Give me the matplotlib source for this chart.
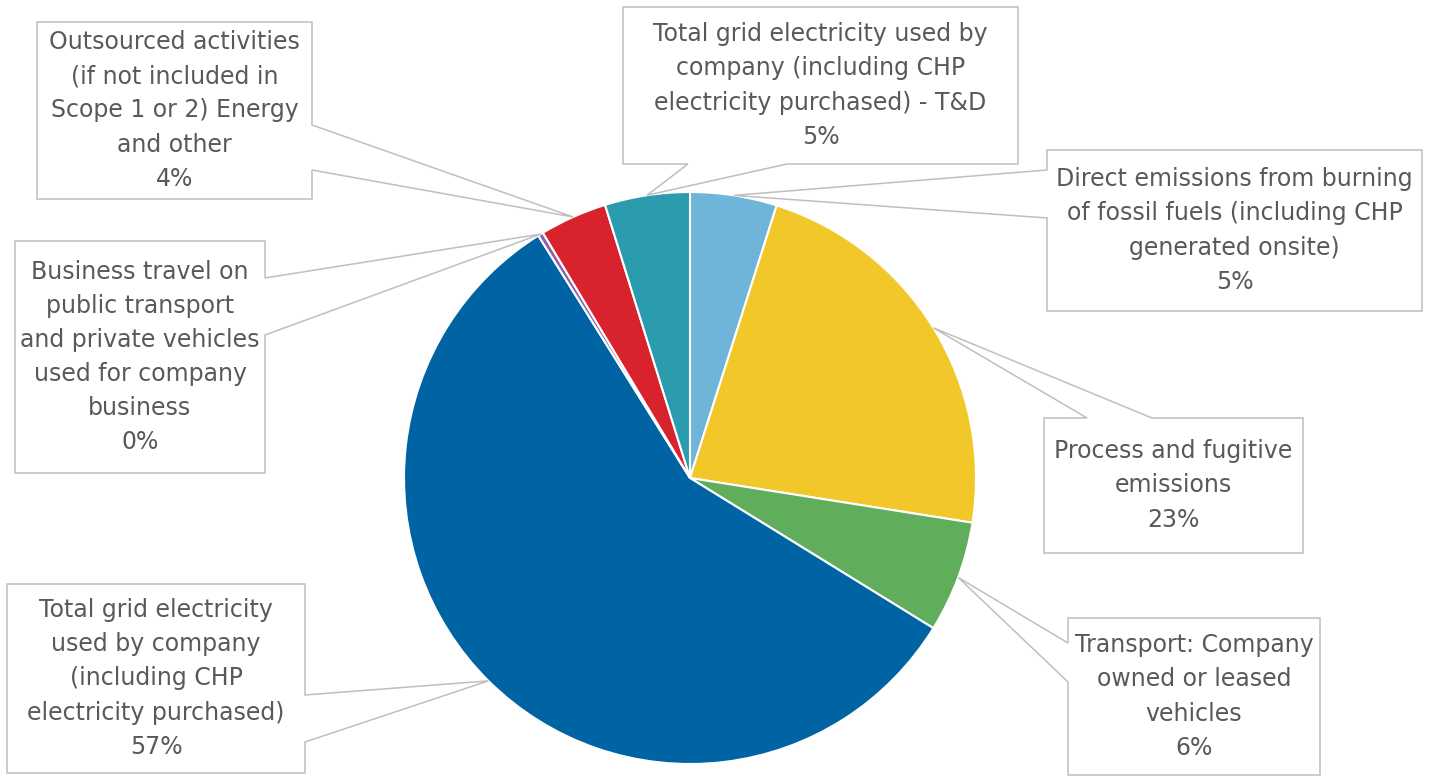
import numpy as np
import matplotlib
matplotlib.use("Agg")
import matplotlib.pyplot as plt
from matplotlib.patches import Polygon

# ---- data (clockwise from 12 o'clock) ----
categories = [
    "Direct emissions from burning\nof fossil fuels (including CHP\ngenerated onsite)",
    "Process and fugitive\nemissions",
    "Transport: Company\nowned or leased\nvehicles",
    "Total grid electricity\nused by company\n(including CHP\nelectricity purchased)",
    "Business travel on\npublic transport\nand private vehicles\nused for company\nbusiness",
    "Outsourced activities\n(if not included in\nScope 1 or 2) Energy\nand other",
    "Total grid electricity used by\ncompany (including CHP\nelectricity purchased) - T&D",
]
shares = [4.9, 22.6, 6.3, 57.3, 0.3, 3.8, 4.8]
colors = ["#6FB5DA", "#F1C72A", "#60AD5C", "#0064A4", "#8E62A8", "#D8232C", "#2A9CAE"]

# ---- layout (pixel coords, y down) ----
W, H = 1431, 776
CX, CY, R = 690, 478, 286
# box: (x0, y0, x1, y1), pointer side, attach positions
boxes = [
    ((1047, 150, 1422, 311), "left", (170, 218)),
    ((1044, 418, 1303, 553), "top", (1087, 1152)),
    ((1068, 618, 1320, 775), "left", (643, 682)),
    ((7, 584, 305, 773), "right", (695, 742)),
    ((15, 241, 265, 473), "right", (278, 335)),
    ((37, 22, 312, 199), "right", (125, 170)),
    ((623, 7, 1018, 164), "bottom", (688, 787)),
]

fig = plt.figure(figsize=(W / 100, H / 100), dpi=100)
ax = fig.add_axes([0, 0, 1, 1])


def py(y):
    return H - y


wedges, _ = ax.pie(shares, colors=colors, startangle=90, counterclock=False,
                   center=(CX, py(CY)), radius=R, frame=True,
                   wedgeprops=dict(edgecolor="white", linewidth=1.5))
ax.set_xlim(0, W)
ax.set_ylim(0, H)
ax.set_aspect("equal")
ax.axis("off")

total = sum(shares)
for wdg, cat, share, (bx, side, att) in zip(wedges, categories, shares, boxes):
    mid = np.deg2rad((wdg.theta1 + wdg.theta2) / 2)
    axp, ayp = CX + R * np.cos(mid), py(CY) + R * np.sin(mid)
    anc = (axp, H - ayp)  # pixel coords
    x0, y0, x1, y1 = bx
    a1, a2 = att
    pts = [(x0, y0)]
    if side == "top":
        pts += [(a1, y0), anc, (a2, y0)]
    pts += [(x1, y0)]
    if side == "right":
        pts += [(x1, a1), anc, (x1, a2)]
    pts += [(x1, y1)]
    if side == "bottom":
        pts += [(a2, y1), anc, (a1, y1)]
    pts += [(x0, y1)]
    if side == "left":
        pts += [(x0, a2), anc, (x0, a1)]
    poly = Polygon([(p[0], py(p[1])) for p in pts], closed=True,
                   facecolor="white", edgecolor="#BFBFBF", linewidth=1.1,
                   zorder=3)
    ax.add_patch(poly)
    pct = f"{round(share / total * 100):.0f}%"
    ax.text((x0 + x1) / 2, py((y0 + y1) / 2), cat + "\n" + pct,
            ha="center", va="center", fontsize=17, color="#595959",
            linespacing=1.53, family="DejaVu Sans", zorder=4)

fig.savefig("out.png", dpi=100, facecolor="white")
